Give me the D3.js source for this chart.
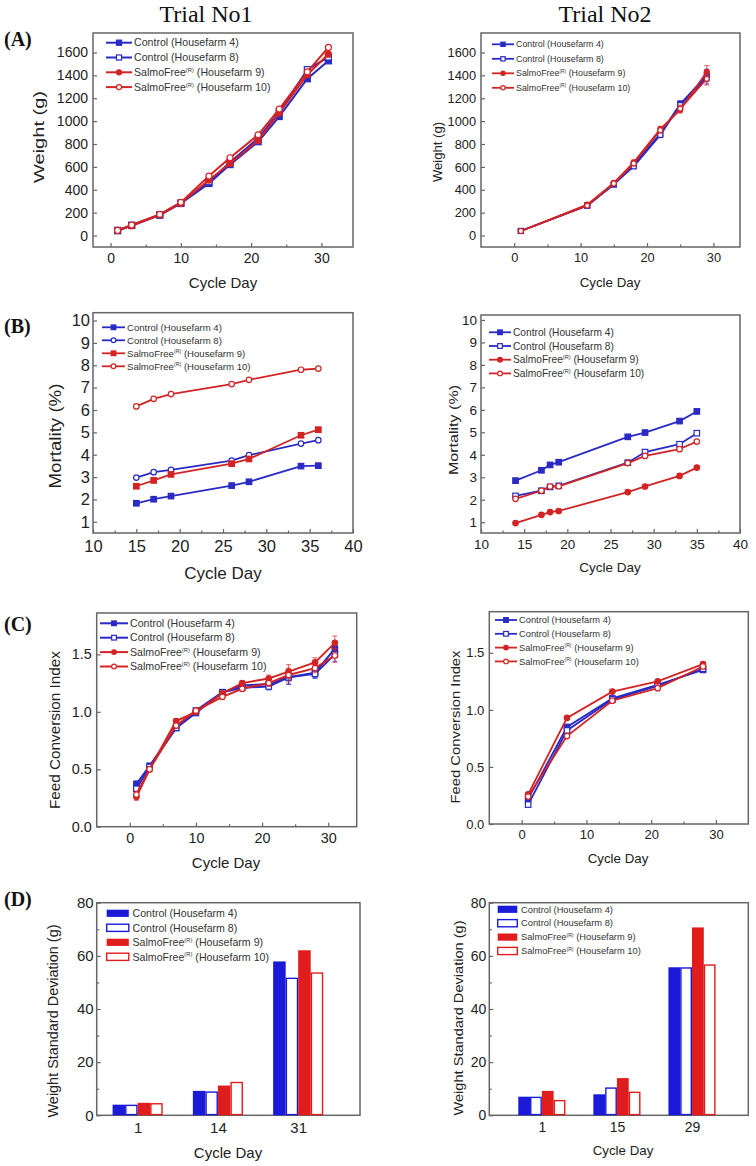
<!DOCTYPE html>
<html><head><meta charset="utf-8">
<script src="https://cdn.jsdelivr.net/npm/d3@7"></script>
<style>body{margin:0;background:#fff}</style>
</head><body>
<svg id="c" width="756" height="1166" xmlns="http://www.w3.org/2000/svg"></svg>
<script>
// ---------- shared labels ----------
const trialTitles = ["Trial No1", "Trial No2"];
const panelLetters = ["(A)", "(B)", "(C)", "(D)"];
const legendMain = ["Control (Housefarm 4)", "Control (Housefarm 8)", "SalmoFree", "SalmoFree"];
const legendSup  = ["", "", "(R)", "(R)"];
const legendTail = ["", "", " (Housefarm 9)", " (Housefarm 10)"];
const xLabel = "Cycle Day";
const yLabels = ["Weight (g)", "Mortality (%)", "Feed Conversion Index", "Weight Standard Deviation (g)"];

// ---------- (A) weight ----------
const daysA1 = [1, 3, 7, 10, 14, 17, 21, 24, 28, 31];
const weightA1_c4  = [45, 88, 178, 280, 455, 620, 820, 1040, 1370, 1527];
const weightA1_c8  = [42, 90, 182, 285, 470, 640, 850, 1080, 1450, 1560];
const weightA1_s9  = [47, 86, 180, 282, 485, 630, 830, 1070, 1405, 1585];
const weightA1_s10 = [44, 92, 185, 290, 520, 680, 880, 1105, 1430, 1644];
const ticksA1x = [0, 10, 20, 30];
const ticksAy = [0, 200, 400, 600, 800, 1000, 1200, 1400, 1600];

const daysA2 = [1, 11, 15, 18, 22, 25, 29];
const weightA2_c4  = [40, 260, 445, 620, 890, 1150, 1400];
const weightA2_c8  = [40, 265, 450, 605, 880, 1140, 1380];
const weightA2_s9  = [40, 270, 460, 640, 930, 1100, 1430];
const weightA2_s10 = [40, 262, 455, 630, 920, 1110, 1370];
const errA2 = [4, 12, 15, 20, 25, 30, 55];

// ---------- (B) mortality ----------
const daysB1 = [15, 17, 19, 26, 28, 34, 36];
const mortB1_c4  = [1.83, 2.01, 2.15, 2.62, 2.79, 3.49, 3.51];
const mortB1_c8  = [2.98, 3.22, 3.32, 3.74, 3.98, 4.50, 4.65];
const mortB1_s9  = [2.59, 2.85, 3.12, 3.60, 3.81, 4.87, 5.12];
const mortB1_s10 = [6.16, 6.50, 6.71, 7.16, 7.35, 7.80, 7.85];

const daysB2 = [14, 17, 18, 19, 27, 29, 33, 35];
const mortB2_c4  = [2.85, 3.31, 3.55, 3.67, 4.80, 4.99, 5.50, 5.93];
const mortB2_c8  = [2.17, 2.40, 2.57, 2.62, 3.65, 4.12, 4.47, 4.96];
const mortB2_s9  = [0.96, 1.33, 1.45, 1.50, 2.34, 2.59, 3.06, 3.43];
const mortB2_s10 = [2.04, 2.40, 2.59, 2.60, 3.63, 3.95, 4.25, 4.59];
const ticksBx = [10, 15, 20, 25, 30, 35, 40];
const ticksBy = [1, 2, 3, 4, 5, 6, 7, 8, 9, 10];

// ---------- (C) feed conversion ----------
const daysC1 = [1, 3, 7, 10, 14, 17, 21, 24, 28, 31];
const fciC1_c4  = [0.37, 0.53, 0.86, 0.99, 1.17, 1.23, 1.24, 1.30, 1.34, 1.55];
const fciC1_c8  = [0.33, 0.52, 0.86, 1.01, 1.17, 1.21, 1.22, 1.30, 1.33, 1.50];
const fciC1_s9  = [0.26, 0.50, 0.92, 1.00, 1.16, 1.25, 1.29, 1.35, 1.43, 1.60];
const fciC1_s10 = [0.28, 0.50, 0.88, 1.01, 1.13, 1.20, 1.25, 1.32, 1.38, 1.49];
const errC1 = [0.03, 0.02, 0.02, 0.02, 0.02, 0.02, 0.03, 0.06, 0.04, 0.06];

const daysC2 = [1, 7, 14, 21, 28];
const fciC2_c4  = [0.22, 0.85, 1.10, 1.22, 1.35];
const fciC2_c8  = [0.17, 0.82, 1.09, 1.21, 1.36];
const fciC2_s9  = [0.26, 0.93, 1.16, 1.25, 1.40];
const fciC2_s10 = [0.24, 0.77, 1.08, 1.19, 1.38];
const ticksCx = [0, 10, 20, 30];
const ticksCy = [0, 0.5, 1.0, 1.5];

// ---------- (D) weight SD bars ----------
const catsD1 = ["1", "14", "31"];
const sdD1_c4  = [4.0, 9.2, 57.9];
const sdD1_c8  = [4.0, 9.0, 51.8];
const sdD1_s9  = [4.7, 11.2, 62.1];
const sdD1_s10 = [4.6, 12.6, 53.8];

const catsD2 = ["1", "15", "29"];
const sdD2_c4  = [7.0, 7.9, 55.7];
const sdD2_c8  = [7.0, 10.5, 55.7];
const sdD2_s9  = [9.2, 14.0, 70.7];
const sdD2_s10 = [5.8, 8.9, 56.8];
const ticksDy = [0, 20, 40, 60, 80];

// ---------- styling ----------
const BLUE = "#1a1ad8", RED = "#e01c1c";
const LBLUE = "#2a2ac4", LRED = "#d22424";
const seriesColor = [LBLUE, LBLUE, LRED, LRED];
const barColor = [BLUE, BLUE, RED, RED];
const seriesFilled = [true, false, true, false];
const FRAME = "#666";
const SANS = "'Liberation Sans', Arial, sans-serif";
const SERIF = "'Liberation Serif', 'Times New Roman', serif";

const svg = d3.select("#c");

svg.selectAll("text.title").data(trialTitles).enter().append("text")
  .attr("x", (d, i) => i === 0 ? 206 : 605).attr("y", 21.5)
  .attr("text-anchor", "middle").attr("font-family", SERIF).attr("font-size", 24)
  .attr("fill", "#111").text(d => d);

const letterY = [46, 333, 631, 906];
svg.selectAll("text.letter").data(panelLetters).enter().append("text")
  .attr("x", 4).attr("y", (d, i) => letterY[i])
  .attr("font-family", SERIF).attr("font-weight", "bold").attr("font-size", 20)
  .attr("fill", "#111").text(d => d);

function marker(g, shape, x, y, color, filled, size) {
  if (shape === "square") {
    g.append("rect").attr("x", x - size / 2).attr("y", y - size / 2)
      .attr("width", size).attr("height", size)
      .attr("fill", filled ? color : "#fff").attr("stroke", color).attr("stroke-width", 1.2);
  } else {
    g.append("circle").attr("cx", x).attr("cy", y).attr("r", size / 2)
      .attr("fill", filled ? color : "#fff").attr("stroke", color).attr("stroke-width", 1.2);
  }
}

function legendText(g, i, x, y, fs) {
  const t = g.append("text").attr("x", x).attr("y", y).attr("dy", "0.35em")
    .attr("font-family", SANS).attr("font-size", fs).attr("fill", "#333");
  t.append("tspan").text(legendMain[i]);
  if (legendSup[i]) {
    t.append("tspan").attr("font-size", fs * 0.55).attr("dy", -fs * 0.4).text(legendSup[i]);
    t.append("tspan").attr("dy", fs * 0.4).text(legendTail[i]);
  }
}

function panel(cfg) {
  const g = svg.append("g");
  const f = cfg.frame;
  const x = d3.scaleLinear().domain(cfg.xDom).range([f.x0, f.x1]);
  const y = d3.scaleLinear().domain(cfg.yDom).range([f.y1, f.y0]);

  g.append("g").attr("transform", `translate(0,${f.y1})`)
    .call(d3.axisBottom(x).tickValues(cfg.xTicks).tickSize(-4).tickPadding(cfg.xPad)
      .tickFormat(cfg.xFmt || (d => d)));
  g.append("g").attr("transform", `translate(${f.x0},0)`)
    .call(d3.axisLeft(y).tickValues(cfg.yTicks).tickSize(-4).tickPadding(cfg.yPad)
      .tickFormat(cfg.yFmt || (d => d)));
  if (cfg.xMinor) g.append("g").attr("transform", `translate(0,${f.y1})`)
    .call(d3.axisBottom(x).tickValues(cfg.xMinor).tickSize(-2.5).tickFormat(""));
  if (cfg.yMinor) g.append("g").attr("transform", `translate(${f.x0},0)`)
    .call(d3.axisLeft(y).tickValues(cfg.yMinor).tickSize(-2.5).tickFormat(""));
  g.selectAll(".domain").remove();
  g.selectAll(".tick line").attr("stroke", FRAME).attr("stroke-width", 1.2);
  g.selectAll(".tick text").attr("font-family", SANS).attr("font-size", cfg.tickFs).attr("fill", "#222");

  g.append("rect").attr("x", f.x0).attr("y", f.y0).attr("width", f.x1 - f.x0).attr("height", f.y1 - f.y0)
    .attr("fill", "none").attr("stroke", FRAME).attr("stroke-width", 1.5);

  g.append("text").attr("x", cfg.xl[0]).attr("y", cfg.xl[1]).attr("dy", "0.35em")
    .attr("text-anchor", "middle").attr("font-family", SANS).attr("font-size", cfg.labFs)
    .attr("fill", "#222").text(xLabel);
  g.append("text").attr("transform", `translate(${cfg.yl[0]},${cfg.yl[1]}) rotate(-90)`).attr("dy", "0.35em")
    .attr("text-anchor", "middle").attr("font-family", SANS).attr("font-size", cfg.labFs)
    .attr("textLength", cfg.yl[2]).attr("lengthAdjust", "spacingAndGlyphs")
    .attr("fill", "#222").text(cfg.yLabel);

  const L = cfg.legend;
  if (cfg.type === "line") {
    const shapes = cfg.shapes || ["square", "square", "circle", "circle"];
    cfg.series.forEach((s, i) => {
      const line = d3.line().x((d, j) => x(cfg.days[j])).y(d => y(d));
      g.append("path").datum(s).attr("d", line).attr("fill", "none")
        .attr("stroke", seriesColor[i]).attr("stroke-width", cfg.lw);
      if (cfg.err) {
        s.forEach((v, j) => {
          const e = cfg.err[j];
          if (!e) return;
          const cx = x(cfg.days[j]);
          g.append("line").attr("x1", cx).attr("x2", cx).attr("y1", y(v - e)).attr("y2", y(v + e))
            .attr("stroke", seriesColor[i]).attr("stroke-width", 1).attr("opacity", 0.7);
          [v - e, v + e].forEach(w => g.append("line").attr("x1", cx - 2.5).attr("x2", cx + 2.5)
            .attr("y1", y(w)).attr("y2", y(w)).attr("stroke", seriesColor[i]).attr("stroke-width", 1).attr("opacity", 0.7));
        });
      }
      s.forEach((v, j) => marker(g, shapes[i], x(cfg.days[j]), y(v), seriesColor[i], seriesFilled[i], cfg.ms));
    });
    cfg.series.forEach((s, i) => {
      const ly = L.y + i * L.dy;
      const mx = L.x + L.w / 2;
      g.append("line").attr("x1", L.x).attr("x2", L.x + L.w).attr("y1", ly).attr("y2", ly)
        .attr("stroke", seriesColor[i]).attr("stroke-width", cfg.lw);
      marker(g, shapes[i], mx, ly, seriesColor[i], seriesFilled[i], cfg.ms * 0.85);
      legendText(g, i, L.x + L.w + 2, ly, L.fs);
    });
  } else {
    const bw = cfg.barW;
    cfg.series.forEach((s, i) => {
      s.forEach((v, j) => {
        const c = j + 1;
        const xl = x(c - 2 * bw + i * bw), xr = x(c - 2 * bw + (i + 1) * bw);
        const filled = seriesFilled[i];
        const sw = filled ? 0 : 1.4;
        g.append("rect").attr("x", xl + sw / 2).attr("y", y(v) + sw / 2)
          .attr("width", xr - xl - sw).attr("height", y(0) - y(v) - sw)
          .attr("fill", filled ? barColor[i] : "#fff").attr("stroke", filled ? "none" : barColor[i])
          .attr("stroke-width", sw);
      });
    });
    cfg.series.forEach((s, i) => {
      const ly = L.y + i * L.dy;
      const filled = seriesFilled[i];
      g.append("rect").attr("x", L.x + 0.7).attr("y", ly - 3.6).attr("width", L.w - 1.4).attr("height", 7.2)
        .attr("fill", filled ? barColor[i] : "#fff").attr("stroke", barColor[i]).attr("stroke-width", filled ? 0 : 1.4);
      legendText(g, i, L.x + L.w + 3, ly, L.fs);
    });
  }
}

// (A) Trial 1
panel({ type: "line", frame: { x0: 93, x1: 353, y0: 33, y1: 247 },
  xDom: [-2.5, 34.5], yDom: [-100, 1770], xTicks: ticksA1x, yTicks: ticksAy,
  xMinor: [5, 15, 25], xPad: 6, yPad: 5, tickFs: 14, labFs: 15,
  xl: [223, 283], yl: [39, 137, 92], yLabel: yLabels[0],
  days: daysA1, series: [weightA1_c4, weightA1_c8, weightA1_s9, weightA1_s10],
  lw: 2, ms: 6, legend: { x: 106, y: 42.7, dy: 14.8, w: 26, fs: 10.6 } });
// (A) Trial 2
panel({ type: "line", frame: { x0: 481, x1: 740, y0: 33, y1: 247 },
  xDom: [-5, 34], yDom: [-100, 1770], xTicks: ticksA1x, yTicks: ticksAy,
  xMinor: [5, 15, 25], xPad: 6, yPad: 5, tickFs: 12.8, labFs: 13.3,
  xl: [610, 282], yl: [437, 152, 60], yLabel: yLabels[0],
  days: daysA2, series: [weightA2_c4, weightA2_c8, weightA2_s9, weightA2_s10], err: errA2,
  lw: 1.8, ms: 5, legend: { x: 492, y: 44.3, dy: 14.5, w: 22, fs: 8.9 } });

// (B) Trial 1
panel({ type: "line", frame: { x0: 93, x1: 353, y0: 312.7, y1: 533 },
  xDom: [10, 40], yDom: [0.5, 10.35], xTicks: ticksBx, yTicks: ticksBy,
  xMinor: [12.5, 17.5, 22.5, 27.5, 32.5, 37.5], xPad: 7, yPad: 3, tickFs: 16.5, labFs: 17,
  xl: [223, 573], yl: [55, 436, 105], yLabel: yLabels[1],
  days: daysB1, series: [mortB1_c4, mortB1_c8, mortB1_s9, mortB1_s10],
  shapes: ["square", "circle", "square", "circle"],
  lw: 1.8, ms: 5.5, legend: { x: 102, y: 327.3, dy: 13, w: 23, fs: 9.6 } });
// (B) Trial 2
panel({ type: "line", frame: { x0: 481, x1: 740, y0: 315, y1: 533 },
  xDom: [10, 40], yDom: [0.52, 10.22], xTicks: ticksBx, yTicks: ticksBy,
  xMinor: [12.5, 17.5, 22.5, 27.5, 32.5, 37.5], xPad: 6, yPad: 4, tickFs: 13.5, labFs: 13.5,
  xl: [610, 567], yl: [453, 430, 90], yLabel: yLabels[1],
  days: daysB2, series: [mortB2_c4, mortB2_c8, mortB2_s9, mortB2_s10],
  lw: 1.8, ms: 5.5, legend: { x: 489, y: 332.3, dy: 13.7, w: 22, fs: 10.2 } });

// (C) Trial 1
panel({ type: "line", frame: { x0: 96.7, x1: 356.7, y0: 613, y1: 826.7 },
  xDom: [-5, 34.3], yDom: [0, 1.86], xTicks: ticksCx, yTicks: ticksCy,
  xMinor: [5, 15, 25], xPad: 6, yPad: 5, tickFs: 14.4, labFs: 15, yFmt: d3.format(".1f"),
  xl: [226, 863], yl: [55, 730, 158], yLabel: yLabels[2],
  days: daysC1, series: [fciC1_c4, fciC1_c8, fciC1_s9, fciC1_s10], err: errC1,
  lw: 2, ms: 5.5, legend: { x: 100, y: 623.3, dy: 14.4, w: 28, fs: 10.6 } });
// (C) Trial 2
panel({ type: "line", frame: { x0: 489.3, x1: 748.3, y0: 611.7, y1: 824 },
  xDom: [-5, 35], yDom: [0, 1.86], xTicks: ticksCx, yTicks: ticksCy,
  xMinor: [5, 15, 25], xPad: 6, yPad: 5, tickFs: 13, labFs: 13.3, yFmt: d3.format(".1f"),
  xl: [618, 858], yl: [455, 727, 153], yLabel: yLabels[2],
  days: daysC2, series: [fciC2_c4, fciC2_c8, fciC2_s9, fciC2_s10],
  lw: 1.8, ms: 5.5, legend: { x: 495, y: 620, dy: 13.8, w: 22, fs: 9.3 } });

// (D) Trial 1
panel({ type: "bar", frame: { x0: 96.7, x1: 360, y0: 902.7, y1: 1115.3 },
  xDom: [0.49, 3.77], yDom: [0, 80], xTicks: [1, 2, 3], yTicks: ticksDy,
  yMinor: [10, 30, 50, 70], xFmt: d => catsD1[d - 1], xPad: 7, yPad: 3, tickFs: 15, labFs: 15,
  xl: [228, 1153], yl: [53, 1021, 193], yLabel: yLabels[3],
  series: [sdD1_c4, sdD1_c8, sdD1_s9, sdD1_s10], barW: 0.156,
  legend: { x: 106, y: 913.3, dy: 14.5, w: 23.5, fs: 10.6 } });
// (D) Trial 2
panel({ type: "bar", frame: { x0: 489.3, x1: 748.3, y0: 902.7, y1: 1115.3 },
  xDom: [0.3, 3.75], yDom: [0, 80], xTicks: [1, 2, 3], yTicks: ticksDy,
  yMinor: [10, 30, 50, 70], xFmt: d => catsD2[d - 1], xPad: 7, yPad: 3, tickFs: 14, labFs: 13.3,
  xl: [623, 1150], yl: [458, 1018, 195], yLabel: yLabels[3],
  series: [sdD2_c4, sdD2_c8, sdD2_s9, sdD2_s10], barW: 0.157,
  legend: { x: 497, y: 909.3, dy: 13.9, w: 21, fs: 9.3 } });
</script>
</body></html>
